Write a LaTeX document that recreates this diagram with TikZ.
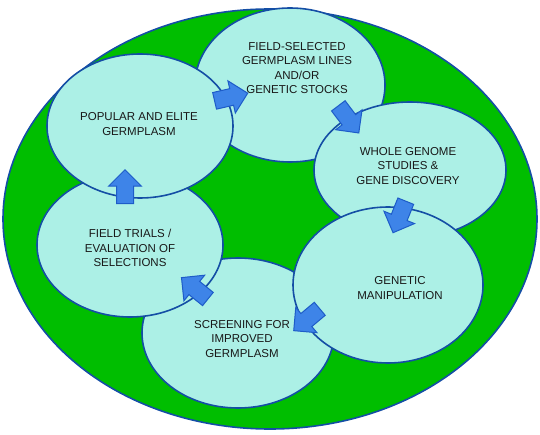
\documentclass[tikz,border=0pt]{standalone}
\usepackage{fontspec}
\setmainfont{Liberation Sans}
\usetikzlibrary{shapes.geometric,shapes.arrows}
\definecolor{rim}{RGB}{20,78,165}
\definecolor{grass}{RGB}{0,190,0}
\definecolor{pale}{RGB}{172,240,230}
\definecolor{arrowfill}{RGB}{62,132,232}
\definecolor{arrowline}{RGB}{30,92,200}
\definecolor{ink}{RGB}{25,25,25}
\begin{document}
\begin{tikzpicture}[x=1pt,y=-1pt,
  stage/.style={ellipse, draw=rim, line width=1.6pt, fill=pale, inner sep=0pt},
  lbl/.style={align=center, text=ink, font=\fontsize{11.5}{14.3}\selectfont, inner sep=0pt},
  flow/.style={single arrow, draw=arrowline, fill=arrowfill, line width=1pt,
    inner xsep=0pt, inner ysep=8pt, single arrow head extend=8pt,
    minimum height=34pt}]
\useasboundingbox (0,0) rectangle (540,435);
\node[ellipse, draw=rim, line width=1.6pt, fill=grass, inner sep=0pt,
      minimum width=534pt, minimum height=420pt] (outer) at (270,219) {};
% stages, drawn in stacking order
\node[stage, minimum width=190pt, minimum height=154pt] (e2) at (290,85) {};
\node[stage, minimum width=192pt, minimum height=136pt] (e3) at (410,170) {};
\node[stage, minimum width=192pt, minimum height=150pt] (e5) at (238,333) {};
\node[stage, minimum width=190pt, minimum height=156pt] (e4) at (388,285) {};
\node[stage, minimum width=186pt, minimum height=144pt] (e6) at (130,245) {};
\node[stage, minimum width=186pt, minimum height=144pt] (e1) at (140,126) {};
% labels
\node[lbl] (t1) at (139,124) {POPULAR AND ELITE\\GERMPLASM};
\node[lbl] (t2) at (297,68) {FIELD-SELECTED\\GERMPLASM LINES\\AND/OR\\GENETIC STOCKS};
\node[lbl] (t3) at (408,166) {WHOLE GENOME\\STUDIES \&\\GENE DISCOVERY};
\node[lbl] (t4) at (400,288) {GENETIC\\MANIPULATION};
\node[lbl] (t5) at (242,339) {SCREENING FOR\\IMPROVED\\GERMPLASM};
\node[lbl] (t6) at (130,248) {FIELD TRIALS /\\EVALUATION OF\\SELECTIONS};
% block arrows
\node[flow, rotate=13] (a12) at (227,98) {};
\node[flow, rotate=-53] (a23) at (346,116) {};
\node[flow, rotate=-112] (a34) at (401,213) {};
\node[flow, rotate=-140] (a45) at (310,317) {};
\node[flow, rotate=141] (a56) at (198,291) {};
\node[flow, rotate=90] (a61) at (125,191) {};
\end{tikzpicture}
\end{document}
